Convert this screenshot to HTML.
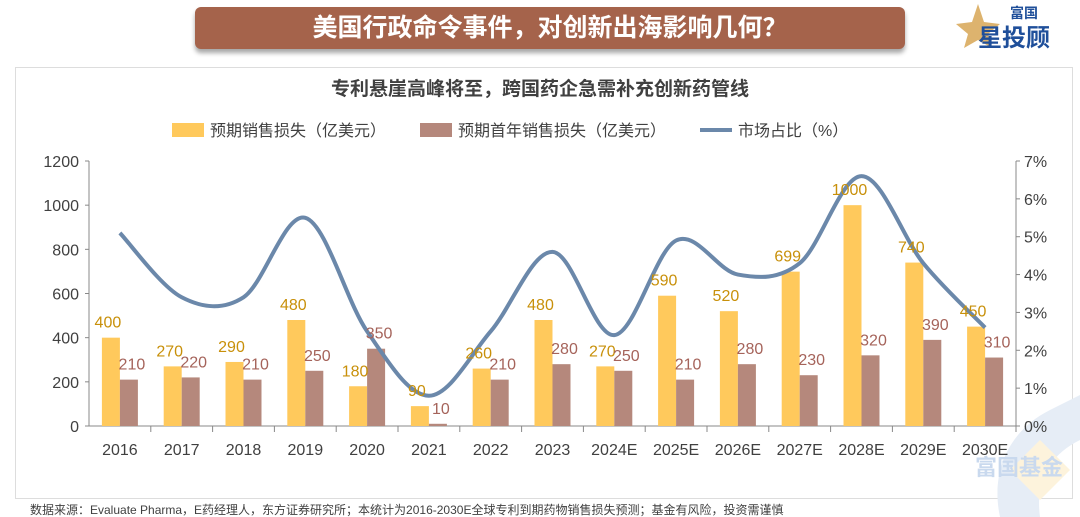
<!DOCTYPE html>
<html><head><meta charset="utf-8">
<style>
body{margin:0;width:1080px;height:517px;background:#fff;overflow:hidden;font-family:"Liberation Sans","Noto Sans CJK SC",sans-serif;position:relative}
.banner{position:absolute;left:195px;top:7px;width:710px;height:42px;background:#a5634b;border-radius:6px;box-shadow:0 4px 5px rgba(0,0,0,.35);color:#fff;font-size:25px;font-weight:bold;text-align:center;line-height:42px}
.box{position:absolute;left:15px;top:67px;width:1056px;height:430px;border:1px solid #ddd}
svg{position:absolute;left:0;top:0}
</style></head><body>
<div class="banner">美国行政命令事件，对创新出海影响几何？</div>
<div style="position:absolute;left:948px;top:2px;width:130px;height:48px">
<svg width="130" height="48"><polygon points="30,2 36,20 52,22 40,32 44,46 30,38 16,46 20,32 8,22 24,20" fill="#d4a04a" opacity="0.8"/>
<text x="62" y="16" font-size="14" font-weight="bold" fill="#1f4f9a" font-family="Liberation Sans,Noto Sans CJK SC,sans-serif">富国</text>
<text x="30" y="44" font-size="24" font-weight="bold" fill="#1f4f9a" font-family="Liberation Sans,Noto Sans CJK SC,sans-serif">星投顾</text></svg></div>
<div class="box"></div>
<svg id="c" width="1080" height="517" font-family="Liberation Sans, Noto Sans CJK SC, sans-serif"></svg>
<script>
const categories=["2016","2017","2018","2019","2020","2021","2022","2023","2024E","2025E","2026E","2027E","2028E","2029E","2030E"];
const salesLoss=[400,270,290,480,180,90,260,480,270,590,520,699,1000,740,450];
const firstYearLoss=[210,220,210,250,350,10,210,280,250,210,280,230,320,390,310];
const marketShare=[5.1,3.4,3.4,5.5,2.5,0.8,2.5,4.6,2.4,4.9,4.0,4.3,6.6,4.3,2.6];
const leftTicks=[0,200,400,600,800,1000,1200];
const rightTicks=[0,1,2,3,4,5,6,7];
const svg=document.getElementById('c');const NS='http://www.w3.org/2000/svg';
function el(t,a,txt){const e=document.createElementNS(NS,t);for(const k in a)e.setAttribute(k,a[k]);if(txt!==undefined)e.textContent=txt;svg.appendChild(e);return e;}
const L=89,R=1016,B=426,T=161,bw=(R-L)/categories.length;
const x=i=>L+bw*(i+0.5);const yL=v=>B-v/1200*(B-T);const yR=v=>B-v/7*(B-T);
// watermark
let w=el('path',{d:'M1000 517 C990 470 1010 430 1050 410 L1080 395 L1080 440 C1050 455 1035 480 1040 517 Z',fill:'#e6edf6'});

w=el('polygon',{points:'1010,470 1040,440 1070,470 1040,500',fill:'#fdf3dc'});

w=el('text',{x:975,y:475,'font-size':22,'font-weight':'bold',fill:'#c9d9ee'},'富国基金');

let t=el('text',{x:540,y:95,'text-anchor':'middle','font-size':19,'font-weight':'bold',fill:'#404040'},'专利悬崖高峰将至，跨国药企急需补充创新药管线');

// legend
const lg=[[172,'rect','#ffc95c','预期销售损失（亿美元）'],[420,'rect','#b5887c','预期首年销售损失（亿美元）'],[700,'line','#6b88aa','市场占比（%）']];
lg.forEach(d=>{let g;if(d[1]=='rect')g=el('rect',{x:d[0],y:123,width:32,height:14,fill:d[2]});else g=el('rect',{x:d[0],y:128,width:32,height:4,fill:d[2]});

const tx=el('text',{x:d[0]+38,y:136,'font-size':16,fill:'#404040'},d[3]);});
// axes
let a=el('line',{x1:L,y1:T,x2:L,y2:B,stroke:'#888'});
a=el('line',{x1:R,y1:T,x2:R,y2:B,stroke:'#888'});
a=el('line',{x1:L,y1:B,x2:R,y2:B,stroke:'#888'});
leftTicks.forEach(v=>{el('line',{x1:L-4,y1:yL(v),x2:L,y2:yL(v),stroke:'#888'});const e=el('text',{x:L-10,y:yL(v)+6,'text-anchor':'end','font-size':16,fill:'#404040'},v);
});
rightTicks.forEach(v=>{el('line',{x1:R,y1:yR(v),x2:R+4,y2:yR(v),stroke:'#888'});const e=el('text',{x:R+8,y:yR(v)+6,'font-size':16,fill:'#404040'},v+'%');
});
categories.forEach((c,i)=>{el('line',{x1:L+bw*(i+1),y1:B,x2:L+bw*(i+1),y2:B+6,stroke:'#888'});
const e=el('text',{x:x(i),y:B+29,'text-anchor':'middle','font-size':16,fill:'#404040'},c);});
// bars
salesLoss.forEach((v,i)=>{const r=el('rect',{x:x(i)-18,y:yL(v),width:18,height:B-yL(v),fill:'#ffc95c'});});
firstYearLoss.forEach((v,i)=>{const r=el('rect',{x:x(i),y:yL(v),width:18,height:B-yL(v),fill:'#b5887c'});});
// line (catmull-rom)
const pts=marketShare.map((v,i)=>[x(i),yR(v)]);let d='M'+pts[0].join(' ');
for(let i=0;i<pts.length-1;i++){const p0=pts[Math.max(0,i-1)],p1=pts[i],p2=pts[i+1],p3=pts[Math.min(pts.length-1,i+2)];
d+=` C${p1[0]+(p2[0]-p0[0])/6} ${p1[1]+(p2[1]-p0[1])/6} ${p2[0]-(p3[0]-p1[0])/6} ${p2[1]-(p3[1]-p1[1])/6} ${p2[0]} ${p2[1]}`;}
const ln=el('path',{d:d,fill:'none',stroke:'#6b88aa','stroke-width':4});
// labels
salesLoss.forEach((v,i)=>{const e=el('text',{x:x(i)-12,y:yL(v)-10,'text-anchor':'middle','font-size':16,fill:'#c8900a'},v);});
firstYearLoss.forEach((v,i)=>{const e=el('text',{x:x(i)+12,y:yL(v)-10,'text-anchor':'middle','font-size':16,fill:'#a5635a'},v);});
t=el('text',{x:30,y:514,'font-size':12,fill:'#404040'},'数据来源：Evaluate Pharma，E药经理人，东方证券研究所；本统计为2016-2030E全球专利到期药物销售损失预测；基金有风险，投资需谨慎');

</script>
</body></html>
